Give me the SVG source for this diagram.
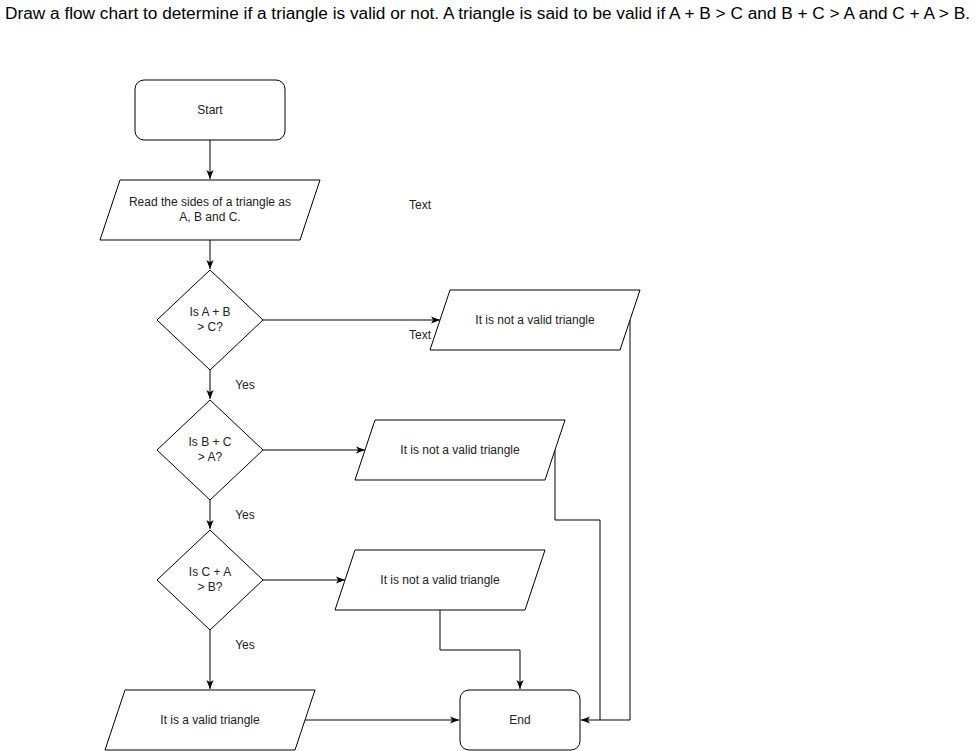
<svg xmlns="http://www.w3.org/2000/svg" width="978" height="751" viewBox="0 0 978 751">
<style>
.shape{fill:#fff;stroke:#000;stroke-width:1}
.lbl{font-family:"Liberation Sans",Arial,sans-serif;font-size:12px;fill:#222;text-anchor:middle}
.edge{fill:none;stroke:#000;stroke-width:1}
.title{font-family:"Liberation Sans",Arial,sans-serif;font-size:16px;fill:#000}
</style>
<defs>
<marker id="arr" viewBox="0 0 10 8" refX="10" refY="4" markerWidth="9" markerHeight="7.5" markerUnits="userSpaceOnUse" orient="auto">
<path d="M0,0 L10,4 L0,8 L2.5,4 Z" fill="#000"/>
</marker>
</defs>
<rect width="978" height="751" fill="#fff"/>
<text class="title" x="5" y="19" textLength="965" lengthAdjust="spacingAndGlyphs">Draw a flow chart to determine if a triangle is valid or not. A triangle is said to be valid if A + B &gt; C and B + C &gt; A and C + A &gt; B.</text>

<g id="edges">
<path class="edge" d="M210,140 L210,179" marker-end="url(#arr)"/>
<path class="edge" d="M210,240 L210,269" marker-end="url(#arr)"/>
<path class="edge" d="M210,370 L210,399" marker-end="url(#arr)"/>
<path class="edge" d="M210,500 L210,529" marker-end="url(#arr)"/>
<path class="edge" d="M210,630 L210,689" marker-end="url(#arr)"/>
<path class="edge" d="M263,320 L440,320" marker-end="url(#arr)"/>
<path class="edge" d="M263,450 L365,450" marker-end="url(#arr)"/>
<path class="edge" d="M263,580 L345,580" marker-end="url(#arr)"/>
<path class="edge" d="M305,720 L459,720" marker-end="url(#arr)"/>
<path class="edge" d="M630,320 L630,720 L581,720" marker-end="url(#arr)"/>
<path class="edge" d="M555,450 L555,520 L600,520 L600,720"/>
<path class="edge" d="M440,610 L440,650 L520,650 L520,689" marker-end="url(#arr)"/>
<text class="lbl" x="245" y="389">Yes</text>
<text class="lbl" x="245" y="519">Yes</text>
<text class="lbl" x="245" y="649">Yes</text>
<text class="lbl" x="420" y="339">Text</text>
<text class="lbl" x="420" y="209">Text</text>
</g>

<g id="start">
<rect class="shape" x="135" y="80" width="150" height="60" rx="9" ry="9"/>
<text class="lbl" x="210" y="114">Start</text>
</g>
<g id="read">
<polygon class="shape" points="120,180 320,180 300,240 100,240"/>
<text class="lbl" x="210" y="206">Read the sides of a triangle as</text>
<text class="lbl" x="210" y="221">A, B and C.</text>
</g>
<g id="dec1">
<polygon class="shape" points="210,270 263,320 210,370 157,320"/>
<text class="lbl" x="210" y="316">Is A + B</text>
<text class="lbl" x="210" y="331">&gt; C?</text>
</g>
<g id="dec2">
<polygon class="shape" points="210,400 263,450 210,500 157,450"/>
<text class="lbl" x="210" y="446">Is B + C</text>
<text class="lbl" x="210" y="461">&gt; A?</text>
</g>
<g id="dec3">
<polygon class="shape" points="210,530 263,580 210,630 157,580"/>
<text class="lbl" x="210" y="576">Is C + A</text>
<text class="lbl" x="210" y="591">&gt; B?</text>
</g>
<g id="notvalid1">
<polygon class="shape" points="450,290 640,290 620,350 430,350"/>
<text class="lbl" x="535" y="324">It is not a valid triangle</text>
</g>
<g id="notvalid2">
<polygon class="shape" points="375,420 565,420 545,480 355,480"/>
<text class="lbl" x="460" y="454">It is not a valid triangle</text>
</g>
<g id="notvalid3">
<polygon class="shape" points="355,550 545,550 525,610 335,610"/>
<text class="lbl" x="440" y="584">It is not a valid triangle</text>
</g>
<g id="valid">
<polygon class="shape" points="125,690 315,690 295,750 105,750"/>
<text class="lbl" x="210" y="724">It is a valid triangle</text>
</g>
<g id="end">
<rect class="shape" x="460" y="690" width="120" height="60" rx="9" ry="9"/>
<text class="lbl" x="520" y="724">End</text>
</g>
</svg>
